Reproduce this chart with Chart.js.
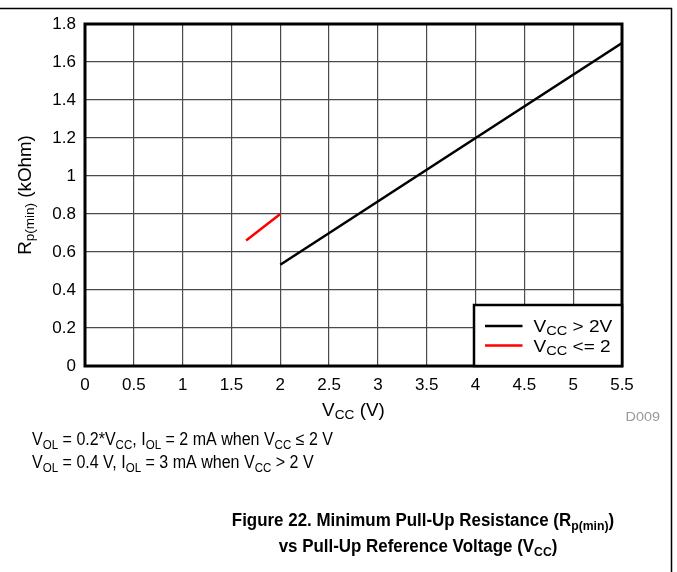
<!DOCTYPE html>
<html>
<head>
<meta charset="utf-8">
<script src="https://cdn.jsdelivr.net/npm/chart.js@4.4.0/dist/chart.umd.min.js"></script>
<style>
  html, body { margin: 0; padding: 0; background: #ffffff; }
  #wrap { position: relative; width: 677px; height: 572px; }
  canvas { display: block; }
</style>
</head>
<body>
<div id="wrap"><canvas id="c" width="677" height="572"></canvas></div>
<script>
// ---- data ----
const vccHigh = [2.0, 5.5];          // V, series "VCC > 2V"
const rpHigh  = [0.533, 1.70];       // kOhm
const vccLow  = [1.65, 2.0];         // V, series "VCC <= 2"
const rpLow   = [0.66, 0.80];        // kOhm
const xTicks  = [0, 0.5, 1, 1.5, 2, 2.5, 3, 3.5, 4, 4.5, 5, 5.5];
const yTicks  = [0, 0.2, 0.4, 0.6, 0.8, 1, 1.2, 1.4, 1.6, 1.8];
const seriesLabels = ['VCC > 2V', 'VCC <= 2'];
const seriesColors = ['#000000', '#ff0000'];

const toPoints = (xs, ys) => xs.map((x, i) => ({ x: x, y: ys[i] }));

const SANS = '"Liberation Sans", Arial, Helvetica, sans-serif';

function richWidth(ctx, parts) {
  let w = 0;
  for (const p of parts) {
    ctx.font = (p.bold ? 'bold ' : '') + p.size + 'px ' + SANS;
    w += ctx.measureText(p.t).width;
  }
  return w;
}
function drawRich(ctx, parts, x, y, opts) {
  opts = opts || {};
  const sx = opts.scaleX || 1;
  ctx.save();
  ctx.fillStyle = opts.color || '#000';
  ctx.textBaseline = 'alphabetic';
  ctx.textAlign = 'left';
  const w = richWidth(ctx, parts) * sx;
  let x0 = x;
  if (opts.align === 'center') x0 = x - w / 2;
  else if (opts.align === 'right') x0 = x - w;
  ctx.translate(x0, y);
  ctx.scale(sx, 1);
  let cx = 0;
  for (const p of parts) {
    ctx.font = (p.bold ? 'bold ' : '') + p.size + 'px ' + SANS;
    ctx.fillText(p.t, cx, p.dy || 0);
    cx += ctx.measureText(p.t).width;
  }
  ctx.restore();
}

const decorPlugin = {
  id: 'decor',
  afterDraw(chart) {
    const ctx = chart.ctx;
    const a = chart.chartArea;
    ctx.save();

    // thick plot frame
    ctx.strokeStyle = '#000';
    ctx.lineWidth = 3;
    ctx.strokeRect(a.left, a.top, a.right - a.left, a.bottom - a.top);

    // outer page frame (top + right)
    ctx.lineWidth = 1.5;
    ctx.beginPath();
    ctx.moveTo(0, 8.5);
    ctx.lineTo(671.5, 8.5);
    ctx.lineTo(671.5, 572);
    ctx.stroke();

    // legend box
    const lw = 148, lh = 61;
    const lx = a.right - lw, ly = a.bottom - lh;
    ctx.fillStyle = '#fff';
    ctx.fillRect(lx, ly, lw, lh);
    ctx.lineWidth = 2.5;
    ctx.strokeRect(lx, ly, lw, lh);
    const rows = [
      { color: seriesColors[0], parts: [{ t: 'V', size: 17 }, { t: 'CC', size: 13, dy: 3 }, { t: ' > 2V', size: 17 }] },
      { color: seriesColors[1], parts: [{ t: 'V', size: 17 }, { t: 'CC', size: 13, dy: 3 }, { t: ' <= 2', size: 17 }] }
    ];
    rows.forEach((r, i) => {
      const yy = ly + 21 + i * 19.6;
      ctx.strokeStyle = r.color;
      ctx.lineWidth = 2.5;
      ctx.beginPath();
      ctx.moveTo(lx + 11, yy);
      ctx.lineTo(lx + 48.5, yy);
      ctx.stroke();
      drawRich(ctx, r.parts, lx + 59.5, yy + 6, { scaleX: 1.12 });
    });

    // x axis title
    const cxm = (a.left + a.right) / 2;
    drawRich(ctx, [{ t: 'V', size: 18 }, { t: 'CC', size: 13, dy: 3 }, { t: ' (V)', size: 18 }], cxm, 415.5, { align: 'center', scaleX: 1.05 });

    // y axis title (rotated)
    ctx.save();
    const yParts = [{ t: 'R', size: 18 }, { t: 'p(min)', size: 13, dy: 3 }, { t: ' (kOhm)', size: 18 }];
    const yw = richWidth(ctx, yParts) * 1.04;
    const cym = (a.top + a.bottom) / 2;
    ctx.translate(31, cym + yw / 2);
    ctx.rotate(-Math.PI / 2);
    drawRich(ctx, yParts, 0, 0, { scaleX: 1.04 });
    ctx.restore();

    // figure code
    drawRich(ctx, [{ t: 'D009', size: 12 }], 660, 421, { align: 'right', scaleX: 1.2, color: '#999999' });

    // notes
    drawRich(ctx, [
      { t: 'V', size: 18 }, { t: 'OL', size: 13, dy: 4 }, { t: ' = 0.2*V', size: 18 }, { t: 'CC', size: 13, dy: 4 },
      { t: ', I', size: 18 }, { t: 'OL', size: 13, dy: 4 }, { t: ' = 2 mA when V', size: 18 }, { t: 'CC', size: 13, dy: 4 },
      { t: ' \u2264 2 V', size: 18 }
    ], 32, 445, { scaleX: 0.89 });
    drawRich(ctx, [
      { t: 'V', size: 18 }, { t: 'OL', size: 13, dy: 4 }, { t: ' = 0.4 V, I', size: 18 }, { t: 'OL', size: 13, dy: 4 },
      { t: ' = 3 mA when V', size: 18 }, { t: 'CC', size: 13, dy: 4 }, { t: ' > 2 V', size: 18 }
    ], 32, 468, { scaleX: 0.89 });

    // figure title
    drawRich(ctx, [
      { t: 'Figure 22. Minimum Pull-Up Resistance (R', size: 18, bold: true },
      { t: 'p(min)', size: 13, bold: true, dy: 4 },
      { t: ')', size: 18, bold: true }
    ], 423, 526, { align: 'center', scaleX: 0.94 });
    drawRich(ctx, [
      { t: 'vs Pull-Up Reference Voltage (V', size: 18, bold: true },
      { t: 'CC', size: 13, bold: true, dy: 4 },
      { t: ')', size: 18, bold: true }
    ], 418, 552, { align: 'center', scaleX: 0.94 });

    ctx.restore();
  }
};

const ctx = document.getElementById('c').getContext('2d');
new Chart(ctx, {
  type: 'scatter',
  data: {
    datasets: [
      {
        label: seriesLabels[0],
        data: toPoints(vccHigh, rpHigh),
        showLine: true,
        borderColor: seriesColors[0],
        backgroundColor: seriesColors[0],
        borderWidth: 2.5,
        pointRadius: 0,
        pointHoverRadius: 0
      },
      {
        label: seriesLabels[1],
        data: toPoints(vccLow, rpLow),
        showLine: true,
        borderColor: seriesColors[1],
        backgroundColor: seriesColors[1],
        borderWidth: 2.5,
        pointRadius: 0,
        pointHoverRadius: 0
      }
    ]
  },
  options: {
    responsive: false,
    animation: false,
    events: [],
    layout: { padding: { left: 0, top: 24, right: 55, bottom: 166 } },
    plugins: {
      legend: { display: false },
      tooltip: { enabled: false },
      title: { display: false }
    },
    scales: {
      x: {
        type: 'linear',
        min: 0,
        max: 5.5,
        afterBuildTicks(scale) { scale.ticks = xTicks.map(v => ({ value: v })); },
        afterFit(scale) { scale.height = 40; },
        grid: { color: '#4a4a4a', lineWidth: 1.2, drawTicks: false },
        border: { display: false },
        ticks: {
          padding: 9,
          color: '#000',
          font: { family: SANS, size: 17 },
          maxRotation: 0,
          autoSkip: false,
          callback: (v) => String(v)
        }
      },
      y: {
        type: 'linear',
        min: 0,
        max: 1.8,
        afterBuildTicks(scale) { scale.ticks = yTicks.map(v => ({ value: v })); },
        afterFit(scale) { scale.width = 85; },
        grid: { color: '#4a4a4a', lineWidth: 1.2, drawTicks: false },
        border: { display: false },
        ticks: {
          padding: 9,
          color: '#000',
          font: { family: SANS, size: 17 },
          autoSkip: false,
          callback: (v) => String(Math.round(v * 10) / 10)
        }
      }
    }
  },
  plugins: [decorPlugin]
});
</script>
</body>
</html>
